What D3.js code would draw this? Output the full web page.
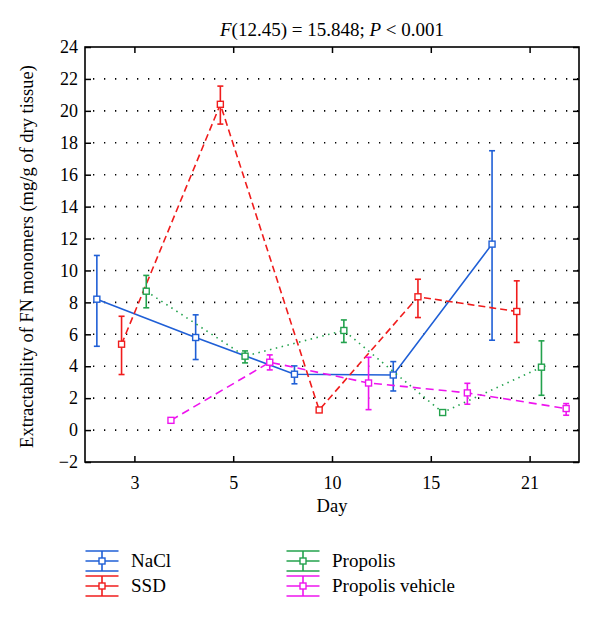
<!DOCTYPE html>
<html><head><meta charset="utf-8">
<script src="https://cdn.jsdelivr.net/npm/d3@7"></script>
<style>body{margin:0;background:#fff}svg{display:block}text{font-family:"Liberation Serif","DejaVu Serif",serif}</style>
</head><body>
<script>
const days = ["3","5","10","15","21"];
const seriesNames = ["NaCl","SSD","Propolis","Propolis vehicle"];
const naclMean = [8.2, 5.8, 3.5, 3.45, 11.65];
const naclLow  = [5.25, 4.42, 2.9, 2.45, 5.63];
const naclHigh = [10.94, 7.22, 4.02, 4.29, 17.5];
const ssdMean = [5.38, 20.41, 1.26, 8.35, 7.43];
const ssdLow  = [3.48, 19.17, 1.12, 7.05, 5.49];
const ssdHigh = [7.13, 21.55, 1.4, 9.45, 9.35];
const propMean = [8.7, 4.63, 6.24, 1.1, 3.94];
const propLow  = [7.66, 4.21, 5.49, 0.96, 2.18];
const propHigh = [9.69, 4.96, 6.9, 1.24, 5.59];
const pvMean = [0.61, 4.25, 2.95, 2.33, 1.35];
const pvLow  = [0.5, 3.77, 1.28, 1.62, 0.93];
const pvHigh = [0.72, 4.71, 4.56, 2.93, 1.66];
const yTicks = [-2,0,2,4,6,8,10,12,14,16,18,20,22,24];

const W=600,H=620;
const svg=d3.select("body").append("svg").attr("width",W).attr("height",H);
const L=85,R=579,T=47,B=462;
const x=d3.scaleLinear().domain([0.5,5.5]).range([L,R]);
const y=d3.scaleLinear().domain([-2,24]).range([B,T]);

const series=[
 {name:seriesNames[0],mean:naclMean,low:naclLow,high:naclHigh,color:"#1f5fd6",dash:null,off:-0.38},
 {name:seriesNames[1],mean:ssdMean,low:ssdLow,high:ssdHigh,color:"#f01c1c",dash:"7,4",off:-0.13},
 {name:seriesNames[2],mean:propMean,low:propLow,high:propHigh,color:"#23a24d",dash:"1.5,4.5",off:0.12},
 {name:seriesNames[3],mean:pvMean,low:pvLow,high:pvHigh,color:"#ee14ee",dash:"8,5",off:0.37}
];

// grid
const grid=svg.append("g");
yTicks.filter(v=>v>-2&&v<24).forEach(v=>{
  grid.append("line").attr("x1",L).attr("x2",R).attr("y1",y(v)).attr("y2",y(v))
   .attr("stroke","#000").attr("stroke-width",1.6).attr("stroke-dasharray","1.3,9.7")
   .attr("stroke-dashoffset",-8);
});

// axes
const tickLen=6;
const yl=svg.append("g").attr("transform",`translate(${L},0)`)
 .call(d3.axisLeft(y).tickValues(yTicks).tickSize(-tickLen).tickPadding(7).tickFormat(d=>d<0?"\u2212"+(-d):d));
const yr=svg.append("g").attr("transform",`translate(${R},0)`)
 .call(d3.axisRight(y).tickValues(yTicks).tickSize(-tickLen).tickFormat(""));
const xb=svg.append("g").attr("transform",`translate(0,${B})`)
 .call(d3.axisBottom(x).tickValues([1,2,3,4,5]).tickSize(-tickLen).tickPadding(tickLen+8).tickFormat((d,i)=>days[i]));
const xt=svg.append("g").attr("transform",`translate(0,${T})`)
 .call(d3.axisTop(x).tickValues([1,2,3,4,5]).tickSize(-tickLen).tickFormat(""));
[yl,yr,xb,xt].forEach(g=>{
  g.selectAll(".domain").remove();
  g.selectAll(".tick line").attr("stroke","#000").attr("stroke-width",1.5);
  g.selectAll("text").attr("font-size",18).attr("fill","#000").attr("font-family","'Liberation Serif',serif");
});
svg.append("rect").attr("x",L).attr("y",T).attr("width",R-L).attr("height",B-T)
 .attr("fill","none").attr("stroke","#000").attr("stroke-width",1.6);

// series
series.forEach(s=>{
  const g=svg.append("g");
  const pts=s.mean.map((m,i)=>({x:x(i+1+s.off),m,lo:s.low[i],hi:s.high[i]}));
  g.append("path").attr("d",d3.line().x(d=>d.x).y(d=>y(d.m))(pts))
   .attr("fill","none").attr("stroke",s.color).attr("stroke-width",1.6)
   .attr("stroke-dasharray",s.dash);
  pts.forEach(p=>{
    g.append("line").attr("x1",p.x).attr("x2",p.x).attr("y1",y(p.lo)).attr("y2",y(p.hi)).attr("stroke",s.color).attr("stroke-width",1.6);
    [p.lo,p.hi].forEach(v=>g.append("line").attr("x1",p.x-3).attr("x2",p.x+3).attr("y1",y(v)).attr("y2",y(v)).attr("stroke",s.color).attr("stroke-width",1.6));
    g.append("rect").attr("x",p.x-3).attr("y",y(p.m)-3).attr("width",6).attr("height",6)
     .attr("fill","#fff").attr("stroke",s.color).attr("stroke-width",1.4);
  });
});

// title
const title=svg.append("text").attr("x",(L+R)/2).attr("y",36).attr("text-anchor","middle").attr("font-size",19);
title.append("tspan").attr("font-style","italic").text("F");
title.append("tspan").text("(12.45) = 15.848; ");
title.append("tspan").attr("font-style","italic").text("P");
title.append("tspan").text(" < 0.001");

// axis titles
svg.append("text").attr("x",(L+R)/2).attr("y",512).attr("text-anchor","middle").attr("font-size",18.5).text("Day");
svg.append("text").attr("transform",`translate(33,${(T+B)/2+2}) rotate(-90)`).attr("text-anchor","middle")
 .attr("font-size",18.5).text("Extractability of FN monomers (mg/g of dry tissue)");

// legend
const legPos=[[102,561],[102,586],[303,561],[303,586]];
series.forEach((s,i)=>{
  const [cx,cy]=legPos[i];
  const g=svg.append("g");
  [-10,0,10].forEach(dy=>g.append("line").attr("x1",cx-16.5).attr("x2",cx+16.5).attr("y1",cy+dy).attr("y2",cy+dy).attr("stroke",s.color).attr("stroke-width",1.6));
  g.append("line").attr("x1",cx).attr("x2",cx).attr("y1",cy-10).attr("y2",cy+10).attr("stroke",s.color).attr("stroke-width",1.6);
  g.append("rect").attr("x",cx-3).attr("y",cy-3).attr("width",6).attr("height",6).attr("fill","#fff").attr("stroke",s.color).attr("stroke-width",1.4);
  g.append("text").attr("x",cx+29).attr("y",cy+6).attr("font-size",19).text(s.name);
});
</script>
</body></html>
